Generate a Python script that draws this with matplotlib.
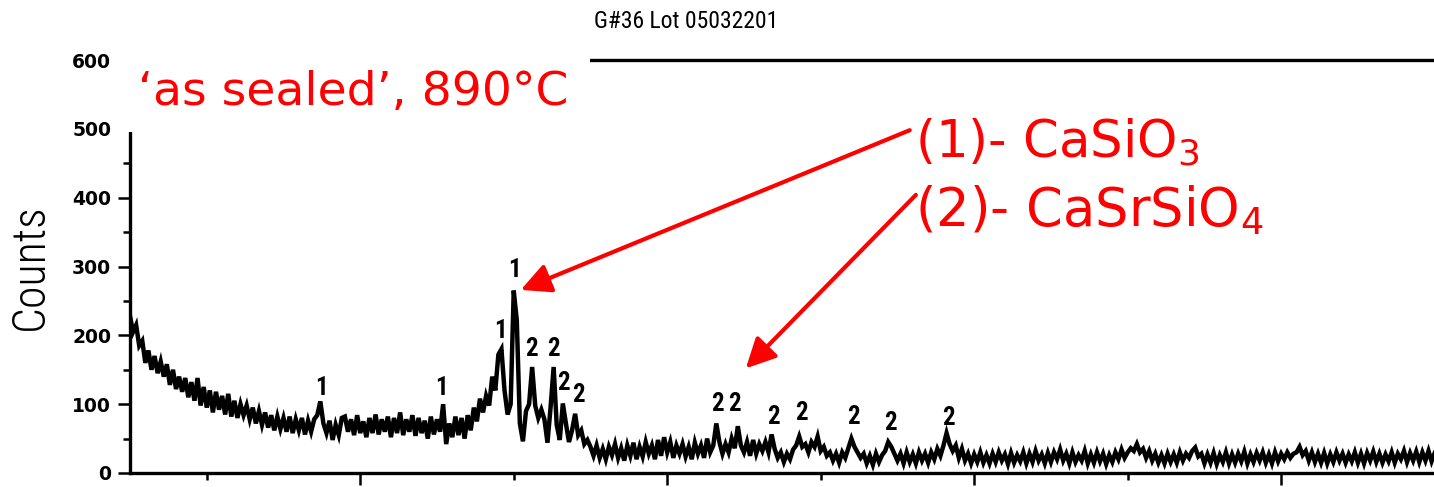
import numpy as np
import matplotlib
matplotlib.use("Agg")
import matplotlib.pyplot as plt
from matplotlib.patches import Rectangle

# XRD scan (2-theta from 17.5 in 0.1 deg steps)
theta_start = 17.5
theta_step = 0.1
counts = [
    228, 205, 215, 185, 192, 160, 178, 150, 170, 145,
    162, 140, 158, 128, 150, 122, 140, 118, 138, 110,
    132, 105, 138, 98, 125, 95, 120, 88, 118, 92,
    112, 85, 115, 82, 105, 80, 100, 84, 98, 78,
    95, 72, 90, 70, 88, 66, 84, 62, 82, 64,
    80, 60, 82, 58, 78, 62, 80, 56, 76, 60,
    78, 84, 104, 72, 58, 76, 48, 70, 55, 80,
    82, 60, 78, 55, 84, 58, 75, 52, 80, 58,
    85, 56, 78, 60, 82, 52, 80, 58, 88, 55,
    78, 60, 84, 54, 80, 58, 76, 50, 82, 56,
    78, 60, 100, 42, 72, 52, 82, 55, 80, 50,
    84, 62, 95, 75, 108, 88, 112, 98, 140, 120,
    172, 180, 120, 85, 100, 265, 222, 72, 46, 90,
    100, 154, 98, 80, 92, 78, 44, 95, 154, 70,
    48, 101, 72, 45, 62, 86, 55, 62, 42, 48,
    38, 25, 40, 22, 35, 20, 38, 26, 42, 22,
    36, 18, 40, 25, 44, 20, 38, 24, 45, 28,
    40, 20, 48, 25, 52, 30, 45, 22, 40, 28,
    42, 24, 38, 20, 44, 28, 40, 22, 50, 30,
    40, 72, 45, 28, 42, 30, 50, 36, 68, 40,
    30, 45, 25, 48, 28, 42, 32, 45, 30, 56,
    35, 22, 30, 16, 28, 20, 34, 40, 53, 38,
    42, 30, 45, 38, 53, 32, 38, 25, 30, 18,
    28, 15, 30, 22, 36, 50, 38, 30, 22, 28,
    14, 25, 12, 28, 16, 26, 32, 45, 38, 28,
    18, 28, 14, 30, 16, 27, 14, 30, 18, 28,
    15, 30, 20, 35, 25, 40, 58, 42, 32, 40,
    22, 35, 18, 28, 14, 27, 16, 30, 15, 26,
    14, 28, 16, 30, 18, 27, 13, 29, 15, 26,
    17, 30, 14, 28, 16, 32, 18, 27, 14, 29,
    16, 30, 20, 34, 18, 28, 14, 30, 16, 26,
    18, 32, 14, 27, 15, 30, 17, 28, 13, 26,
    16, 30, 20, 34, 22, 30, 36, 32, 42, 30,
    35, 22, 32, 18, 28, 15, 26, 14, 28, 16,
    27, 15, 30, 18, 28, 22, 32, 37, 24, 28,
    14, 27, 15, 29, 13, 26, 16, 30, 14, 27,
    15, 28, 17, 31, 14, 27, 16, 29, 18, 30,
    15, 27, 14, 30, 17, 28, 20, 30, 22, 28,
    30, 38, 26, 32, 18, 30, 16, 28, 15, 29,
    14, 27, 16, 30, 18, 28, 15, 27, 17, 30,
    15, 28, 14, 29, 18, 31, 16, 28, 15, 27,
    17, 30, 15, 28, 20, 32, 16, 29, 18, 31,
    16, 30, 18, 32, 17, 29,
]

# phase markers: "1" = CaSiO3, "2" = CaSrSiO4
label1_x = [23.75, 27.65, 29.58, 30.03]
label1_y = [124, 124, 206, 295]
label2_x = [30.59, 31.30, 31.63, 32.12, 36.64, 37.20, 38.47, 39.38, 41.07, 42.28, 44.17]
label2_y = [180, 180, 131, 113, 100, 100, 81, 87, 81, 73, 80]

W, H = 1434, 487
fig = plt.figure(figsize=(W / 100, H / 100), dpi=100)
ax = fig.add_axes([130 / W, 14 / H, 1320 / W, 413 / H])

two_theta = theta_start + theta_step * np.arange(len(counts))
ax.plot(two_theta, counts, color='black', lw=3.2, solid_joinstyle='miter')

ax.set_xlim(17.5, 60.5)
ax.set_ylim(0, 600)
for s in ax.spines.values():
    s.set_linewidth(2.4)
ax.spines['right'].set_visible(False)

ax.set_xticks([25, 35, 45, 55])
ax.set_xticks([20, 30, 40, 50], minor=True)
ax.set_xticklabels([])
ax.set_yticks(range(0, 601, 100))
ax.set_yticks(range(50, 600, 100), minor=True)
ax.tick_params(which='major', direction='out', length=8.6, width=1.8, pad=5)
ax.tick_params(which='minor', direction='out', length=5, width=1.8)
for t in ax.get_yticklabels():
    t.set_fontsize(13.5)
    t.set_fontweight('bold')
    t.set_family('DejaVu Sans')

narrow = ['Liberation Sans Narrow', 'Roboto Condensed', 'DejaVu Sans']
for x, y in zip(label1_x, label1_y):
    ax.text(x, y, '1', ha='center', va='center', fontsize=18, fontweight='bold',
            family=narrow, fontstretch='condensed')
for x, y in zip(label2_x, label2_y):
    ax.text(x, y, '2', ha='center', va='center', fontsize=18, fontweight='bold',
            family=narrow, fontstretch='condensed')

fig.text(686 / W, 1 - 22 / H, 'G#36 Lot 05032201', ha='center', va='center',
         fontsize=17, family=narrow, fontstretch='condensed')
fig.text(30 / W, 1 - 267 / H, 'Counts', rotation=90, ha='center', va='center',
         fontsize=33, family=narrow, fontstretch='condensed', fontweight='light')

# white patch hiding the frame behind the sample note
fig.add_artist(Rectangle((115 / W, 1 - 132 / H), (590 - 115) / W, (132 - 50) / H,
                         transform=fig.transFigure, facecolor='white', edgecolor='none', zorder=10))
fig.text(138 / W, 1 - 92 / H, '\u2018as sealed\u2019, 890\u00b0C', ha='left', va='center',
         fontsize=34, color='red', zorder=11)
fig.text(915 / W, 1 - 142 / H, '(1)- CaSiO$_3$', ha='left', va='center',
         fontsize=37, color='red')
fig.text(915 / W, 1 - 210 / H, '(2)- CaSrSiO$_4$', ha='left', va='center',
         fontsize=38, color='red')

arrow = dict(arrowstyle='-|>,head_length=1.0,head_width=0.5', color='red', lw=3,
             mutation_scale=18, shrinkA=0, shrinkB=0)
ax.annotate('', xy=(30.23, 266), xytext=(42.9, 498), arrowprops=arrow, annotation_clip=False)
ax.annotate('', xy=(37.56, 152), xytext=(43.1, 404), arrowprops=arrow, annotation_clip=False)

fig.savefig('out.png', dpi=100)
